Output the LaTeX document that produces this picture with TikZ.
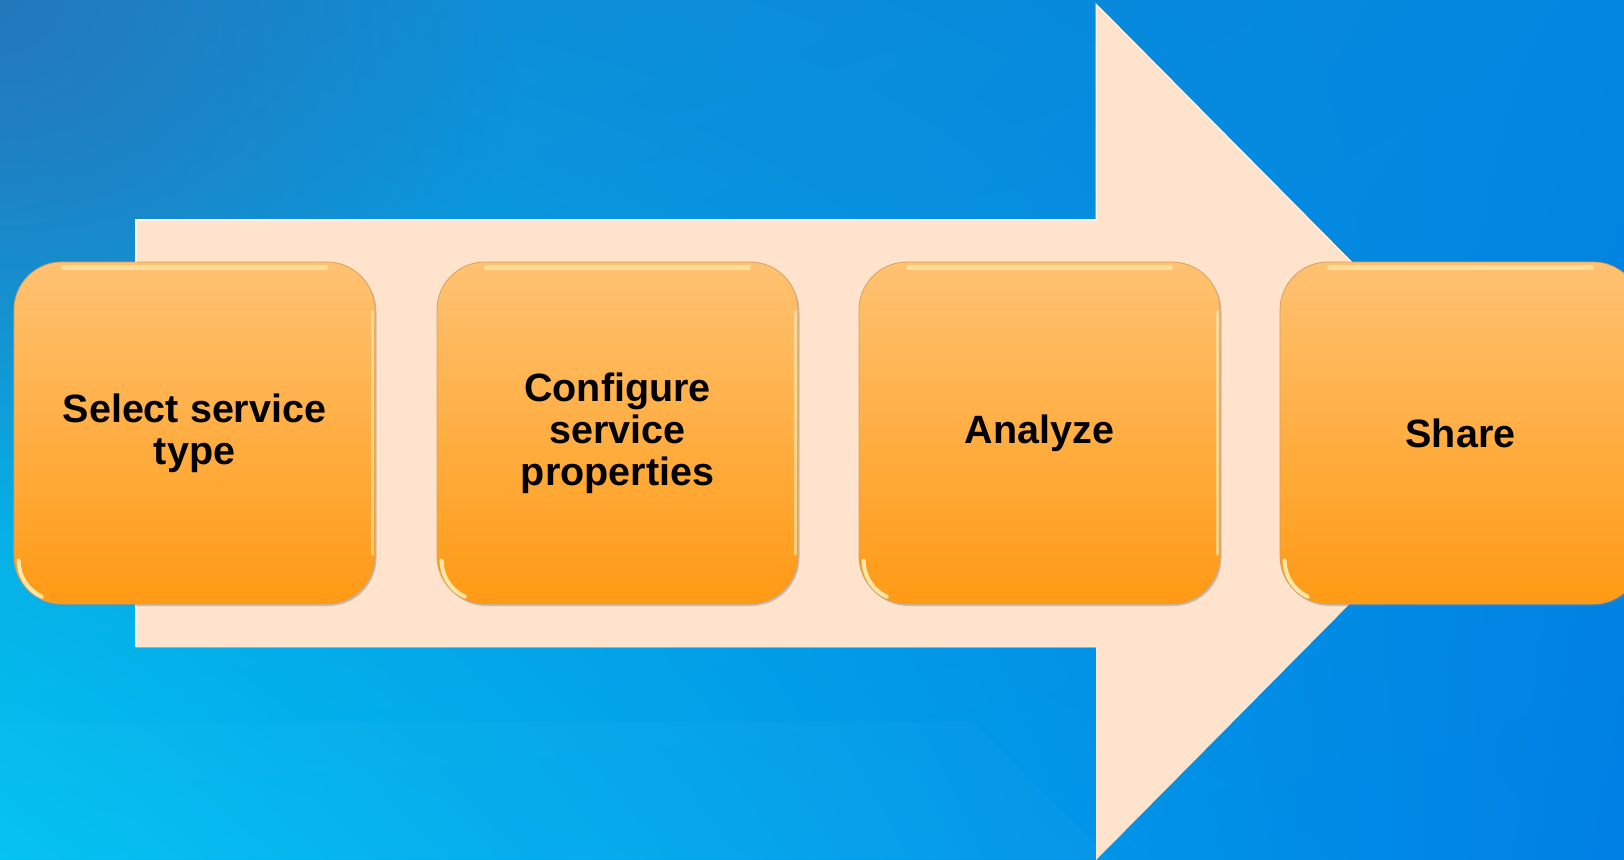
\documentclass[tikz,border=0pt]{standalone}
\usepackage{fontspec}
\setmainfont{Liberation Sans}
\usetikzlibrary{shadows,shadings,fadings}
\definecolor{bgTL}{HTML}{1292D4}
\definecolor{bgTLdark}{HTML}{2478BC}
\definecolor{bgTR}{HTML}{0286E0}
\definecolor{bgBL}{HTML}{00C2F2}
\definecolor{bgBR}{HTML}{007FE4}
\definecolor{arrowfill}{HTML}{FFE3CC}
\definecolor{arrowedge}{HTML}{B8A898}
\definecolor{boxtop}{HTML}{FFC272}
\definecolor{boxbot}{HTML}{FF9A14}
\definecolor{boxedge}{HTML}{D8A060}
\definecolor{gloss}{HTML}{FFF4C0}
\tikzfading[name=cornerfade, inner color=transparent!0, outer color=transparent!100]
\begin{document}
\begin{tikzpicture}[x=1pt,y=-1pt,
  stepbox/.style={rectangle, rounded corners=48pt, minimum width=361pt,
    minimum height=342pt, inner sep=0pt, draw=boxedge, line width=0.8pt,
    top color=boxtop, bottom color=boxbot, align=center,
    font=\fontsize{39.5}{42}\selectfont\bfseries, text=black,
    drop shadow={shadow xshift=1.5pt, shadow yshift=-2pt, opacity=0.4}},
  topgloss/.style={gloss, line width=5pt, opacity=0.55, line cap=round},
  cornergloss/.style={gloss, line width=4pt, opacity=0.85, line cap=round},
  sidegloss/.style={gloss, line width=2.5pt, opacity=0.55, line cap=round}
]
\useasboundingbox (0,0) rectangle (1624,859);
\clip (0,0) rectangle (1624,859);
% background
\shade[upper left=bgTL, upper right=bgTR, lower left=bgBL, lower right=bgBR]
  (0,0) rectangle (1624,859);
\fill[bgTLdark, path fading=cornerfade] (-520,-520) rectangle (520,520);
\fill[white, opacity=0.025] (0,722) -- (973,722) -- (1110,859) -- (0,859) -- cycle;
% big arrow
\fill[arrowfill] (136,220) -- (1096,220) -- (1096,4) -- (1520,432)
  -- (1096,860) -- (1096,647) -- (136,647) -- cycle;
\draw[white, line width=1.5pt] (136,647) -- (136,220) -- (1096,220);
\draw[white, line width=1pt] (1096,220) -- (1096,4) -- (1520,432);
\draw[arrowedge, line width=0.8pt] (136,647) -- (1096,647);
% steps
\node[stepbox] (s1) at (194.5,433) {Select service\\type};
\node[stepbox] (s2) at (617.5,433) {Configure\\service\\properties};
\node[stepbox] (s3) at (1039.5,433) {Analyze};
\node[stepbox] (s4) at (1460.5,433) {Share};
% gloss highlights
\foreach \n in {s1,s2,s3,s4}{
  \draw[topgloss] ([xshift=50pt,yshift=-6pt]\n.north west) -- ([xshift=-50pt,yshift=-6pt]\n.north east);
  \draw[cornergloss] ([xshift=5pt,yshift=44pt]\n.south west) arc[start angle=180, end angle=245, radius=40pt];
  \draw[sidegloss] ([xshift=-3pt,yshift=-50pt]\n.north east) -- ([xshift=-3pt,yshift=50pt]\n.south east);
}
\end{tikzpicture}
\end{document}
